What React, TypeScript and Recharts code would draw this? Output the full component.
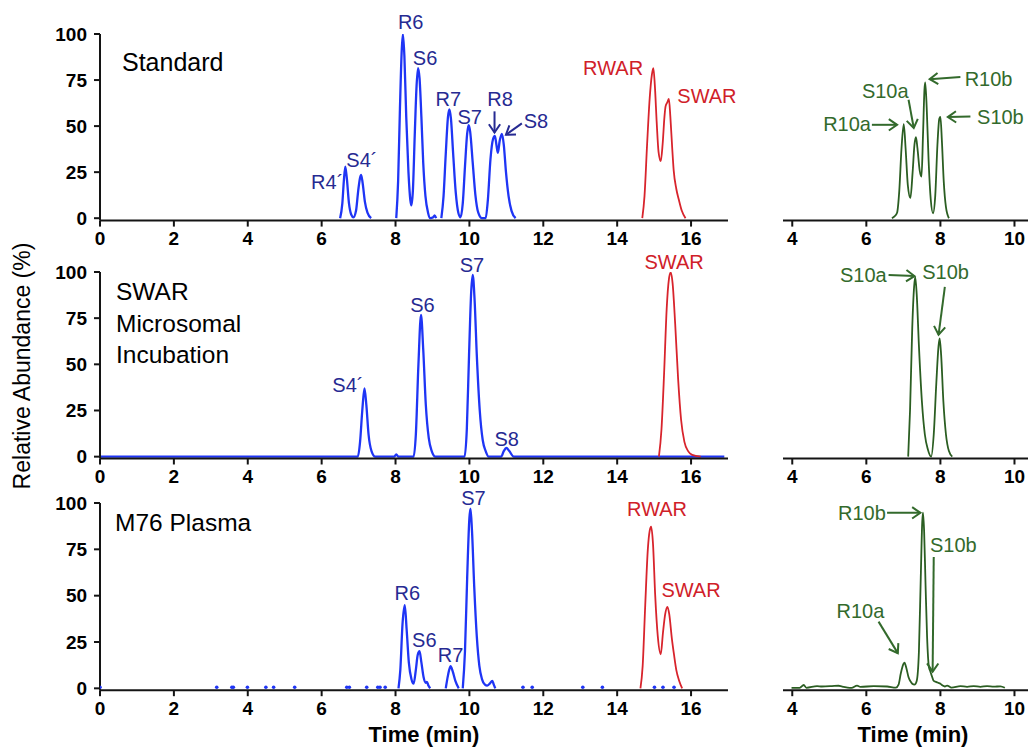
import { LineChart, Line, XAxis, YAxis, ReferenceDot, ReferenceLine } from "recharts";

type Pt = [number, number | null];

// ---- Standard (row 1) ----
const standardBlue: Pt[] = [
  [6.5, 0], [6.56, 8], [6.6, 20], [6.64, 28], [6.68, 22], [6.74, 8], [6.8, 2], [6.86, 0.5],
  [6.93, 4], [6.99, 15], [7.04, 22], [7.07, 23.5], [7.11, 19], [7.17, 9], [7.24, 3], [7.34, 0],
  [7.6, null],
  [8.02, 0], [8.07, 20], [8.12, 60], [8.17, 92], [8.2, 100], [8.24, 88], [8.29, 55], [8.35, 25],
  [8.4, 10], [8.43, 7], [8.47, 15], [8.52, 45], [8.57, 72], [8.61, 81.5], [8.65, 76], [8.7, 55],
  [8.75, 30], [8.81, 12], [8.88, 3], [8.94, 0], [9.02, 0.5], [9.06, 1.5], [9.1, 0],
  [9.17, null],
  [9.24, 0], [9.3, 12], [9.36, 35], [9.42, 55], [9.46, 59], [9.5, 54], [9.56, 35], [9.63, 14],
  [9.7, 3], [9.76, 0.5], [9.82, 8], [9.88, 28], [9.94, 46], [9.98, 50.5], [10.02, 47], [10.09, 30],
  [10.16, 13], [10.24, 3], [10.34, 0], [10.44, 0], [10.5, 10], [10.57, 32], [10.64, 43], [10.69, 44.7],
  [10.73, 40], [10.77, 35.5], [10.82, 42], [10.88, 45.8], [10.93, 40], [10.99, 25], [11.06, 12],
  [11.14, 4], [11.25, 0],
];
const standardRed: Pt[] = [
  [14.68, 0], [14.74, 12], [14.81, 40], [14.88, 65], [14.94, 78], [14.98, 81.5], [15.02, 72],
  [15.07, 52], [15.12, 36], [15.18, 31], [15.23, 40], [15.28, 55], [15.31, 60.7], [15.36, 63],
  [15.4, 64.7], [15.44, 55], [15.49, 38], [15.53, 26], [15.6, 16], [15.67, 10], [15.75, 4], [15.85, 0],
];
const standardGreen: Pt[] = [
  [6.69, 0], [6.76, 1], [6.83, 3], [6.89, 15], [6.95, 38], [7.01, 51], [7.06, 38], [7.12, 18],
  [7.19, 11], [7.25, 25], [7.3, 40], [7.34, 44], [7.38, 38], [7.44, 26], [7.49, 22.6], [7.53, 45],
  [7.57, 70], [7.59, 73.7], [7.63, 60], [7.68, 32], [7.74, 10], [7.8, 2.7], [7.86, 12], [7.92, 40],
  [7.97, 54], [8.0, 55], [8.04, 42], [8.09, 20], [8.15, 6], [8.23, 0],
];

// ---- SWAR microsomal incubation (row 2) ----
const microBlue: Pt[] = [
  [0, 0], [6.98, 0], [7.04, 8], [7.1, 25], [7.16, 37], [7.21, 28], [7.27, 12], [7.35, 3], [7.45, 0],
  [7.96, 0], [8.02, 1.2], [8.08, 0], [8.49, 0], [8.55, 12], [8.62, 50], [8.69, 76.8], [8.75, 58],
  [8.82, 28], [8.9, 10], [8.98, 3], [9.08, 0], [9.87, 0], [9.93, 15], [9.99, 55], [10.05, 90],
  [10.09, 98.4], [10.14, 85], [10.2, 55], [10.28, 25], [10.36, 9], [10.44, 3], [10.52, 0],
  [10.86, 0], [10.93, 3], [11.0, 4.7], [11.08, 3], [11.2, 0], [16.9, 0],
];
const microRed: Pt[] = [
  [15.13, 0], [15.2, 15], [15.27, 45], [15.34, 80], [15.4, 96], [15.45, 99.8], [15.5, 94],
  [15.57, 72], [15.65, 42], [15.73, 20], [15.82, 8], [15.92, 3], [16.03, 1], [16.26, 0],
];
const microGreen: Pt[] = [
  [7.13, 0], [7.18, 25], [7.24, 70], [7.29, 92], [7.32, 97.3], [7.36, 88], [7.42, 60], [7.5, 30],
  [7.58, 12], [7.66, 4], [7.75, 0], [7.82, 12], [7.89, 40], [7.95, 60], [7.98, 64], [8.02, 55],
  [8.08, 30], [8.15, 12], [8.23, 3], [8.32, 0],
];

// ---- M76 plasma (row 3) ----
const plasmaBlue: Pt[] = [
  [8.08, 0], [8.13, 10], [8.19, 35], [8.25, 44.9], [8.3, 32], [8.36, 14], [8.43, 5], [8.49, 2.5],
  [8.55, 10], [8.6, 18], [8.65, 20], [8.7, 14], [8.76, 6], [8.82, 3], [8.85, 3.5], [8.89, 1.5], [8.94, 0],
  [9.1, null],
  [9.36, 0], [9.42, 7], [9.49, 12], [9.55, 9], [9.62, 4], [9.71, 0],
  [9.77, null],
  [9.82, 0], [9.88, 20], [9.94, 60], [10.0, 92], [10.03, 97], [10.07, 85], [10.13, 55], [10.2, 28],
  [10.27, 12], [10.34, 5], [10.42, 2], [10.48, 1.5], [10.55, 2.5], [10.62, 4], [10.66, 2], [10.7, 0],
];
const plasmaBlueNoise: Pt[] = [
  [0, 0.6], [3.16, 0.6], [3.57, 0.6], [3.61, 0.6], [3.99, 0.6], [4.49, 0.6], [4.7, 0.6], [5.27, 0.6],
  [6.68, 0.6], [6.75, 0.6], [7.22, 0.6], [7.52, 0.6], [7.58, 0.6], [7.72, 0.6], [11.45, 0.6],
  [11.7, 0.6], [13.07, 0.6], [13.6, 0.6], [15.01, 0.6], [15.24, 0.6], [15.54, 0.6],
];
const plasmaRed: Pt[] = [
  [14.63, 0], [14.69, 12], [14.76, 45], [14.83, 75], [14.88, 85], [14.92, 87.2], [14.97, 78],
  [15.03, 50], [15.1, 28], [15.18, 18.4], [15.24, 30], [15.3, 40], [15.36, 44], [15.41, 40],
  [15.48, 27], [15.54, 18], [15.6, 10], [15.68, 4], [15.76, 0],
];
const plasmaGreen: Pt[] = [
  [3.98, 0.3], [4.2, 0.3], [4.31, 1.8], [4.38, 0.3], [4.67, 1.2], [4.8, 1.0], [5.07, 1.2], [5.25, 1.4],
  [5.34, 1.0], [5.6, 0.3], [5.75, 1.5], [5.84, 0.8], [6.2, 1.2], [6.56, 1.0], [6.8, 0.4], [6.87, 2],
  [6.93, 8], [7.0, 13], [7.03, 13.9], [7.08, 11], [7.14, 6], [7.2, 3.5], [7.24, 2.5], [7.3, 2],
  [7.36, 4], [7.42, 20], [7.47, 60], [7.51, 90], [7.53, 94.8], [7.56, 85], [7.6, 55], [7.64, 28],
  [7.69, 11.5], [7.73, 9], [7.78, 6], [7.82, 4], [7.88, 3.5], [7.94, 3], [8.0, 2.5], [8.06, 1.5],
  [8.12, 1], [8.18, 1.5], [8.3, 0.4], [8.54, 1.2], [8.72, 0.8], [8.9, 1.2], [9.08, 0.8], [9.26, 1.2],
  [9.44, 0.9], [9.62, 1.1], [9.74, 0.3],
];

const leftTicks = [0, 2, 4, 6, 8, 10, 12, 14, 16];
const rightTicks = [4, 6, 8, 10];
const yTicks = [0, 25, 50, 75, 100];

// peak labels: [text, t, v]
const standardBlueLabels: [string, number, number][] = [
  ["R4´", 6.15, 19.7], ["S4´", 7.09, 31.7], ["R6", 8.41, 106.3], ["S6", 8.8, 87],
  ["R7", 9.43, 64.7], ["S7", 10.01, 55.2], ["R8", 10.83, 64.7], ["S8", 11.8, 52.5],
];
const standardRedLabels: [string, number, number][] = [["RWAR", 13.89, 81.5], ["SWAR", 16.43, 66.1]];
const standardGreenLabels: [string, number, number][] = [
  ["S10a", 6.51, 68.8], ["R10a", 5.48, 51.2], ["R10b", 9.3, 75.5], ["S10b", 9.62, 54.9],
];
const microBlueLabels: [string, number, number][] = [
  ["S4´", 6.71, 38.8], ["S6", 8.73, 82.1], ["S7", 10.07, 103.8], ["S8", 11.01, 9.4],
];
const microRedLabels: [string, number, number][] = [["SWAR", 15.54, 105.6]];
const microGreenLabels: [string, number, number][] = [["S10a", 5.92, 98.4], ["S10b", 8.14, 100.2]];
const plasmaBlueLabels: [string, number, number][] = [
  ["R6", 8.32, 51.4], ["S6", 8.78, 26.2], ["R7", 9.49, 18], ["S7", 10.11, 102.9],
];
const plasmaRedLabels: [string, number, number][] = [["RWAR", 15.08, 96.5], ["SWAR", 16.0, 52.8]];
const plasmaGreenLabels: [string, number, number][] = [
  ["R10b", 5.88, 94.7], ["S10b", 8.35, 77.6], ["R10a", 5.84, 41.5],
];

// arrows: [tFrom, vFrom, tTo, vTo]
const standardBlueArrows: [number, number, number, number][] = [
  [10.68, 58, 10.68, 46.5], [11.42, 51.5, 10.99, 45.3],
];
const standardGreenArrows: [number, number, number, number][] = [
  [7.14, 64.3, 7.28, 49], [6.15, 50.7, 6.83, 50.7], [8.54, 76.6, 7.71, 75.5], [8.81, 55.2, 8.2, 54.9],
];
const microGreenArrows: [number, number, number, number][] = [
  [6.6, 98.4, 7.3, 97.8], [8.12, 92, 7.95, 66],
];
const plasmaGreenArrows: [number, number, number, number][] = [
  [6.56, 94.7, 7.46, 94.7], [7.82, 70.9, 7.79, 9], [6.33, 36, 6.85, 19],
];

const BLUE = "#1f35f5";
const BLUE_TEXT = "#262a92";
const RED = "#d8242c";
const RED_TEXT = "#d02028";
const GREEN = "#2b5e22";
const GREEN_TEXT = "#336a2c";
const AXIS = "#141414";
const FONT = "'Liberation Sans', Arial, sans-serif";

interface Trace { pts: Pt[]; color: string; width: number; dotsOnly?: boolean }
interface LabelSet { items: [string, number, number][]; color: string }
interface ArrowSet { items: [number, number, number, number][]; color: string }

interface PanelProps {
  left: number;
  top: number;
  width: number;
  plotHeight: number;
  marginLeft: number;
  marginRight: number;
  xDomain: [number, number];
  xTicks: number[];
  yMin: number;
  showY: boolean;
  traces: Trace[];
  labels: LabelSet[];
  arrows: ArrowSet[];
}

// eslint-disable-next-line @typescript-eslint/no-explicit-any
const ArrowShape = (color: string) => (p: any) => {
  const { x1, y1, x2, y2 } = p;
  const ang = Math.atan2(y2 - y1, x2 - x1);
  const len = 10;
  const spread = 0.6;
  const ax = x2 - len * Math.cos(ang - spread);
  const ay = y2 - len * Math.sin(ang - spread);
  const bx = x2 - len * Math.cos(ang + spread);
  const by = y2 - len * Math.sin(ang + spread);
  return (
    <g>
      <line x1={x1} y1={y1} x2={x2} y2={y2} stroke={color} strokeWidth={2} />
      <polyline points={`${ax},${ay} ${x2},${y2} ${bx},${by}`} fill="none" stroke={color} strokeWidth={2} />
    </g>
  );
};

const Panel = (props: PanelProps) => {
  const { left, top, width, plotHeight, marginLeft, marginRight, xDomain, xTicks, yMin, showY } = props;
  const height = 40 + plotHeight + 40;
  return (
    <div style={{ position: "absolute", left, top }}>
      <LineChart
        width={width}
        height={height}
        margin={{ top: 40, right: marginRight, bottom: 0, left: marginLeft }}
      >
        <XAxis
          dataKey="t"
          type="number"
          domain={xDomain}
          allowDataOverflow
          ticks={xTicks}
          height={40}
          tickSize={6}
          tickMargin={5}
          axisLine={{ stroke: AXIS, strokeWidth: 2 }}
          tickLine={{ stroke: AXIS, strokeWidth: 2 }}
          tick={{ fill: "#000", fontSize: 19, fontWeight: 700 }}
        />
        <YAxis
          hide={!showY}
          width={60}
          type="number"
          domain={[yMin, 100]}
          allowDataOverflow
          ticks={yTicks}
          tickSize={6}
          tickMargin={7}
          axisLine={{ stroke: AXIS, strokeWidth: 2 }}
          tickLine={{ stroke: AXIS, strokeWidth: 2 }}
          tick={{ fill: "#000", fontSize: 19, fontWeight: 700 }}
        />
        {props.traces.map((tr, i) => (
          <Line
            key={i}
            data={tr.pts.map(([t, v]) => ({ t, v }))}
            dataKey="v"
            type="monotone"
            stroke={tr.dotsOnly ? "none" : tr.color}
            strokeWidth={tr.width}
            dot={tr.dotsOnly ? { r: 1.8, fill: tr.color, stroke: "none" } : false}
            activeDot={false}
            connectNulls={false}
            isAnimationActive={false}
          />
        ))}
        {props.arrows.flatMap((set, i) =>
          set.items.map(([t1, v1, t2, v2], j) => (
            <ReferenceLine
              key={`a${i}-${j}`}
              segment={[{ x: t1, y: v1 }, { x: t2, y: v2 }]}
              ifOverflow="visible"
              stroke={set.color}
              shape={ArrowShape(set.color)}
            />
          ))
        )}
        {props.labels.flatMap((set, i) =>
          set.items.map(([text, t, v], j) => (
            <ReferenceDot
              key={`l${i}-${j}`}
              x={t}
              y={v}
              r={0}
              ifOverflow="visible"
              // eslint-disable-next-line @typescript-eslint/no-explicit-any
              shape={(p: any) => (
                <text
                  x={p.cx}
                  y={p.cy}
                  textAnchor="middle"
                  dominantBaseline="central"
                  fill={set.color}
                  fontSize={20}
                  fontFamily={FONT}
                >
                  {text}
                </text>
              )}
            />
          ))
        )}
      </LineChart>
    </div>
  );
};

const rows = [
  {
    y100: 34.3, plotHeight: 186.6, yMin: -1.3,
    left: [
      { pts: standardBlue, color: BLUE, width: 2.3 },
      { pts: standardRed, color: RED, width: 1.8 },
    ],
    right: [{ pts: standardGreen, color: GREEN, width: 1.8 }],
    leftLabels: [
      { items: standardBlueLabels, color: BLUE_TEXT },
      { items: standardRedLabels, color: RED_TEXT },
    ],
    rightLabels: [{ items: standardGreenLabels, color: GREEN_TEXT }],
    leftArrows: [{ items: standardBlueArrows, color: BLUE_TEXT }],
    rightArrows: [{ items: standardGreenArrows, color: GREEN_TEXT }],
  },
  {
    y100: 272, plotHeight: 186.5, yMin: -1,
    left: [
      { pts: microBlue, color: BLUE, width: 2.3 },
      { pts: microRed, color: RED, width: 1.8 },
    ],
    right: [{ pts: microGreen, color: GREEN, width: 1.8 }],
    leftLabels: [
      { items: microBlueLabels, color: BLUE_TEXT },
      { items: microRedLabels, color: RED_TEXT },
    ],
    rightLabels: [{ items: microGreenLabels, color: GREEN_TEXT }],
    leftArrows: [],
    rightArrows: [{ items: microGreenArrows, color: GREEN_TEXT }],
  },
  {
    y100: 503, plotHeight: 187.2, yMin: -1,
    left: [
      { pts: plasmaBlueNoise, color: BLUE, width: 2, dotsOnly: true },
      { pts: plasmaBlue, color: BLUE, width: 2.3 },
      { pts: plasmaRed, color: RED, width: 1.8 },
    ],
    right: [{ pts: plasmaGreen, color: GREEN, width: 1.8 }],
    leftLabels: [
      { items: plasmaBlueLabels, color: BLUE_TEXT },
      { items: plasmaRedLabels, color: RED_TEXT },
    ],
    rightLabels: [{ items: plasmaGreenLabels, color: GREEN_TEXT }],
    leftArrows: [],
    rightArrows: [{ items: plasmaGreenArrows, color: GREEN_TEXT }],
  },
];

export default function App() {
  return (
    <div
      style={{
        position: "absolute",
        left: 0,
        top: 0,
        width: 1028,
        height: 747,
        overflow: "hidden",
        background: "#fff",
        fontFamily: FONT,
      }}
    >
      {rows.map((r, i) => (
        <div key={i}>
          <Panel
            left={0}
            top={r.y100 - 40}
            width={760}
            plotHeight={r.plotHeight}
            marginLeft={40}
            marginRight={32}
            xDomain={[0, 17]}
            xTicks={leftTicks}
            yMin={r.yMin}
            showY
            traces={r.left}
            labels={r.leftLabels}
            arrows={r.leftArrows}
          />
          <Panel
            left={760}
            top={r.y100 - 40}
            width={273}
            plotHeight={r.plotHeight}
            marginLeft={23}
            marginRight={0}
            xDomain={[3.75, 10.5]}
            xTicks={rightTicks}
            yMin={r.yMin}
            showY={false}
            traces={r.right}
            labels={r.rightLabels}
            arrows={r.rightArrows}
          />
        </div>
      ))}
      <svg
        width={1028}
        height={747}
        style={{ position: "absolute", left: 0, top: 0, pointerEvents: "none" }}
        fontFamily={FONT}
      >
        <text x={122} y={70.5} fontSize={25} fill="#000">Standard</text>
        <text x={116} y={300} fontSize={24.5} fill="#000">SWAR</text>
        <text x={116} y={331.7} fontSize={24.5} fill="#000">Microsomal</text>
        <text x={116} y={363.3} fontSize={24.5} fill="#000">Incubation</text>
        <text x={115} y={531} fontSize={24.5} fill="#000">M76 Plasma</text>
        <text
          x={22}
          y={366}
          fontSize={23}
          fill="#000"
          textAnchor="middle"
          dominantBaseline="central"
          transform="rotate(-90 22 366)"
        >
          Relative Abundance (%)
        </text>
        <text x={424} y={742} fontSize={22} fontWeight={700} fill="#000" textAnchor="middle">Time (min)</text>
        <text x={913} y={742} fontSize={22} fontWeight={700} fill="#000" textAnchor="middle">Time (min)</text>
      </svg>
    </div>
  );
}
